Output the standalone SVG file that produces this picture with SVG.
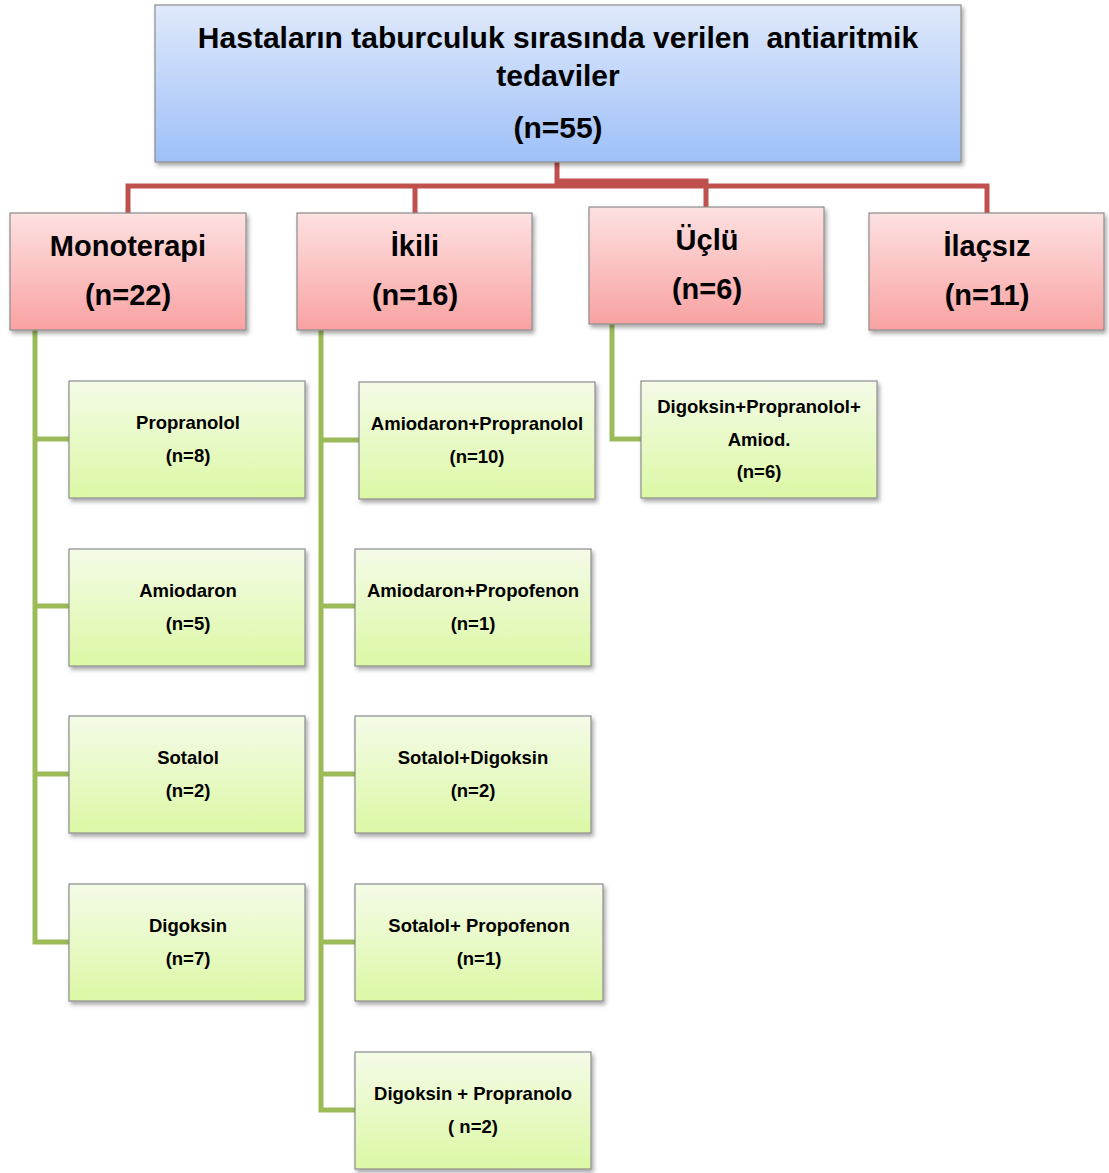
<svg xmlns="http://www.w3.org/2000/svg" width="1109" height="1173" viewBox="0 0 1109 1173">
<style>
.t{font-family:"Liberation Sans",Arial,sans-serif;font-weight:bold;fill:#000;text-anchor:middle}
.tt{font-size:30px}
.tr{font-size:29px}
.tg{font-size:18.5px}
.red{stroke:#c0504d;stroke-width:5;fill:none}
.grn{stroke:#9bbb59;stroke-width:5;fill:none}
.bb{fill:url(#gb);stroke:#8c8c8c;stroke-width:1.2;filter:url(#sh)}
.br{fill:url(#gr);stroke:#8c8c8c;stroke-width:1.2;filter:url(#sh)}
.bg{fill:url(#gg);stroke:#8c8c8c;stroke-width:1.2;filter:url(#sh)}
</style>
<defs>
<linearGradient id="gb" x1="0" y1="0" x2="0" y2="1"><stop offset="0" stop-color="#dfe9fb"/><stop offset="1" stop-color="#9ec0f8"/></linearGradient>
<linearGradient id="gr" x1="0" y1="0" x2="0" y2="1"><stop offset="0" stop-color="#fde1e1"/><stop offset="1" stop-color="#f9a2a2"/></linearGradient>
<linearGradient id="gg" x1="0" y1="0" x2="0" y2="1"><stop offset="0" stop-color="#f4fbe8"/><stop offset="1" stop-color="#dcf8a5"/></linearGradient>
<filter id="sh" x="-5%" y="-5%" width="115%" height="120%"><feDropShadow dx="2" dy="3" stdDeviation="2" flood-color="#000" flood-opacity="0.35"/></filter>
</defs>
<g id="connectors">
<path class="red" d="M557 162V186M128 213V186H987V213M415 186V213M557 181H706V207"/>
<path class="grn" d="M35 330V942H69M35 439H69M35 606H69M35 774H69"/>
<path class="grn" d="M321 330V1110H355M321 440H359M321 606H355M321 774H355M321 942H355"/>
<path class="grn" d="M612 324V439H641"/>
</g>
<g id="root"><rect class="bb" x="155" y="5" width="806" height="157"/>
<text class="t tt" x="558" y="48">Hastaların taburculuk sırasında verilen&#160; antiaritmik</text>
<text class="t tt" x="558" y="86">tedaviler</text>
<text class="t tt" x="558" y="138">(n=55)</text></g>
<g id="monoterapi"><rect class="br" x="10" y="213" width="236" height="117"/>
<text class="t tr" x="128" y="256">Monoterapi</text><text class="t tr" x="128" y="305">(n=22)</text></g>
<g id="ikili"><rect class="br" x="297" y="213" width="235" height="117"/>
<text class="t tr" x="415" y="256">İkili</text><text class="t tr" x="415" y="305">(n=16)</text></g>
<g id="uclu"><rect class="br" x="589" y="207" width="235" height="117"/>
<text class="t tr" x="707" y="250">Üçlü</text><text class="t tr" x="707" y="299">(n=6)</text></g>
<g id="ilacsiz"><rect class="br" x="869" y="213" width="235" height="117"/>
<text class="t tr" x="987" y="256">İlaçsız</text><text class="t tr" x="987" y="305">(n=11)</text></g>
<g id="propranolol"><rect class="bg" x="69" y="381" width="236" height="117"/>
<text class="t tg" x="188" y="429">Propranolol</text><text class="t tg" x="188" y="462">(n=8)</text></g>
<g id="amiodaron"><rect class="bg" x="69" y="549" width="236" height="117"/>
<text class="t tg" x="188" y="597">Amiodaron</text><text class="t tg" x="188" y="630">(n=5)</text></g>
<g id="sotalol"><rect class="bg" x="69" y="716" width="236" height="117"/>
<text class="t tg" x="188" y="764">Sotalol</text><text class="t tg" x="188" y="797">(n=2)</text></g>
<g id="digoksin"><rect class="bg" x="69" y="884" width="236" height="117"/>
<text class="t tg" x="188" y="932">Digoksin</text><text class="t tg" x="188" y="965">(n=7)</text></g>
<g id="amio-prop"><rect class="bg" x="359" y="382" width="236" height="117"/>
<text class="t tg" x="477" y="430">Amiodaron+Propranolol</text><text class="t tg" x="477" y="463">(n=10)</text></g>
<g id="amio-propaf"><rect class="bg" x="355" y="549" width="236" height="117"/>
<text class="t tg" x="473" y="597">Amiodaron+Propofenon</text><text class="t tg" x="473" y="630">(n=1)</text></g>
<g id="sot-dig"><rect class="bg" x="355" y="716" width="236" height="117"/>
<text class="t tg" x="473" y="764">Sotalol+Digoksin</text><text class="t tg" x="473" y="797">(n=2)</text></g>
<g id="sot-propaf"><rect class="bg" x="355" y="884" width="248" height="117"/>
<text class="t tg" x="479" y="932">Sotalol+ Propofenon</text><text class="t tg" x="479" y="965">(n=1)</text></g>
<g id="dig-prop"><rect class="bg" x="355" y="1052" width="236" height="117"/>
<text class="t tg" x="473" y="1100">Digoksin + Propranolo</text><text class="t tg" x="473" y="1133">( n=2)</text></g>
<g id="dig-prop-amio"><rect class="bg" x="641" y="381" width="236" height="117"/>
<text class="t tg" x="759" y="413">Digoksin+Propranolol+</text><text class="t tg" x="759" y="446">Amiod.</text><text class="t tg" x="759" y="478">(n=6)</text></g>
</svg>
